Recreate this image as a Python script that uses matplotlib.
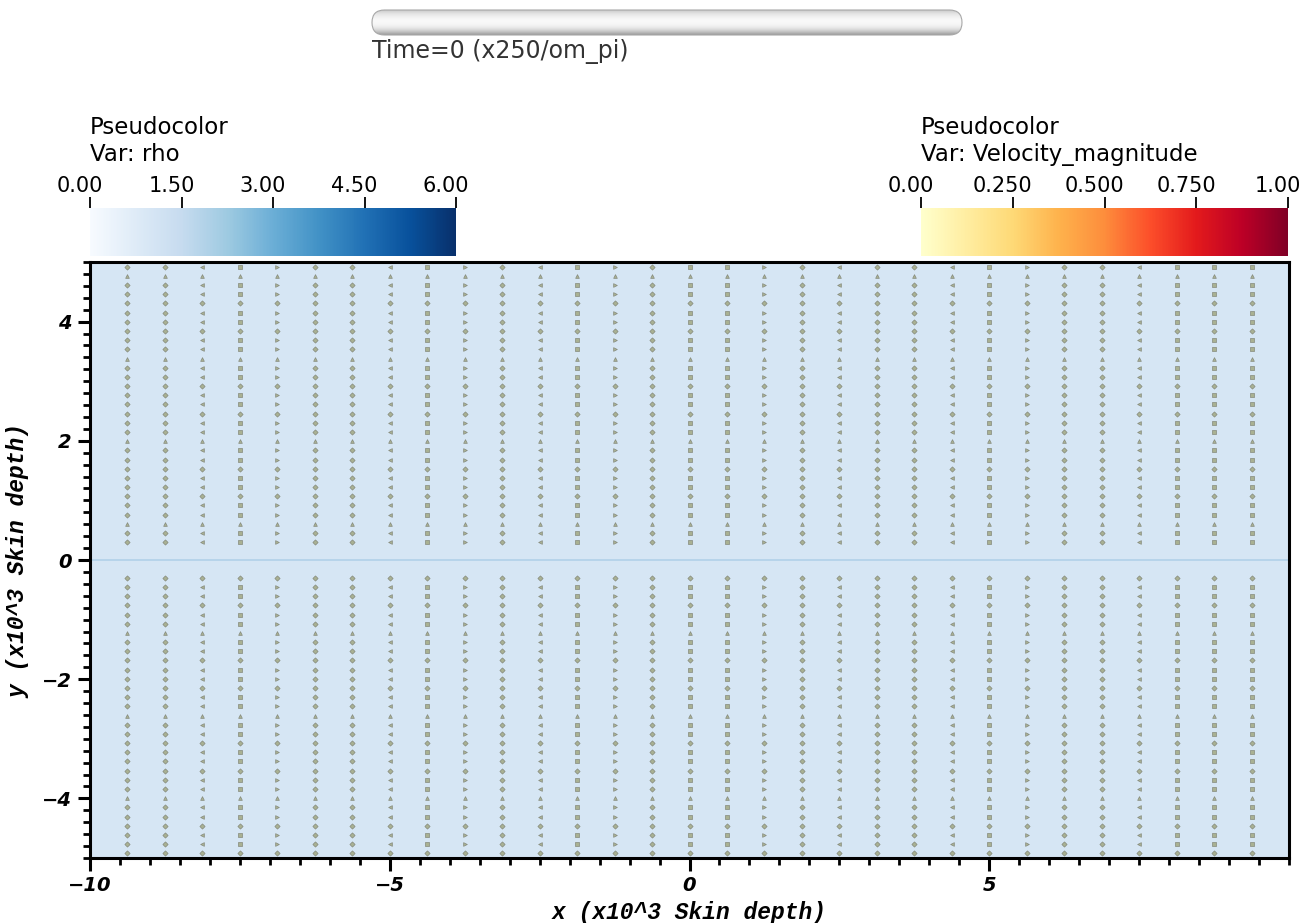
import numpy as np
import matplotlib
matplotlib.use("Agg")
import matplotlib.pyplot as plt
import matplotlib.transforms as mtransforms
from matplotlib.patches import FancyBboxPatch
from matplotlib.cm import ScalarMappable
from matplotlib.colors import Normalize
from matplotlib.ticker import MultipleLocator, FuncFormatter

# ---------------- data ----------------
x_range = [-10, 10]
y_range = [-5, 5]
x_ticks = [-10, -5, 0, 5]
y_ticks = [-4, -2, 0, 2, 4]

# background density (rho) bands in y
rho_y_edges = [-5.0, -0.016, 0.016, 5.0]
rho_values = [1.0, 1.8, 1.0]

# glyph grid (vector glyph locations)
glyph_x = [-9.375 + 0.625 * k for k in range(31)]
glyph_y_upper = [0.30 + 0.154 * k for k in range(31)]
glyph_y = [-v for v in glyph_y_upper[::-1]] + glyph_y_upper
# glyph shape pattern (by column, cycled) and row pattern
col_markers = ['D', 'D', '<', 's', '>', 'D', 'D', '<', 's', '>',
               'D', '<', 's', '>', 'D', 's', 's', '>', 'D', '<',
               'D', 'D', '<', 's', '>', 'D', 'D', '<', 's', 's', 's']
row_markers = ['D', 'v', '^', 'D', 's', 'v', '^', 'D', 's']

rho_ticks = [0.0, 1.5, 3.0, 4.5, 6.0]
rho_ticklabels = ['0.00', '1.50', '3.00', '4.50', '6.00']
vel_ticks = [0.0, 0.25, 0.5, 0.75, 1.0]
vel_ticklabels = ['0.00', '0.250', '0.500', '0.750', '1.00']

time_text = "Time=0 (x250/om_pi)"
xlabel = "x (x10^3 Skin depth)"
ylabel = "y (x10^3 Skin depth)"

# ---------------- figure ----------------
W, H = 1303, 923
fig = plt.figure(figsize=(W / 100, H / 100), dpi=100)

def fx(px):
    return px / W

def fy(py):
    return 1 - py / H

ax = fig.add_axes([fx(90), fy(858), fx(1289) - fx(90), fy(262) - fy(858)])
cmap_rho = plt.get_cmap('Blues')
cmap_vel = plt.get_cmap('YlOrRd')

X, Y = np.meshgrid(np.array(x_range, float), np.array(rho_y_edges, float))
C = np.array(rho_values).reshape(-1, 1)
ax.pcolormesh(X, Y, C, cmap=cmap_rho, vmin=0, vmax=6, shading='flat', zorder=0)

# glyphs
for i, gx in enumerate(glyph_x):
    cm = col_markers[i % len(col_markers)]
    for j, gy in enumerate(glyph_y):
        rm = row_markers[j % len(row_markers)]
        m = rm if (j % 3 == 0) else cm
        ax.scatter([gx], [gy], marker=m, s=7, facecolor='#a9b192',
                   edgecolor='#858a7c', linewidths=0.5, zorder=2)

ax.set_xlim(*x_range)
ax.set_ylim(*y_range)
ax.set_xticks(x_ticks)
ax.set_yticks(y_ticks)
ax.xaxis.set_minor_locator(MultipleLocator(0.5))
ax.yaxis.set_minor_locator(MultipleLocator(0.2))
fmt = FuncFormatter(lambda v, p: ('\u2212%d' % abs(v)) if v < 0 else '%d' % v)
ax.xaxis.set_major_formatter(fmt)
ax.yaxis.set_major_formatter(fmt)
ax.tick_params(which='major', direction='out', length=9, width=2.2, color='black',
               labelsize=14, pad=4)
ax.tick_params(which='minor', direction='out', length=5, width=2.0, color='black')
for lab in ax.get_xticklabels() + ax.get_yticklabels():
    lab.set_fontweight('bold')
    lab.set_fontstyle('italic')
    lab.set_family('DejaVu Sans')
for sp in ax.spines.values():
    sp.set_linewidth(2.2)

ax.set_xlabel(xlabel, family='Liberation Mono', fontweight='bold', fontstyle='italic',
              fontsize=16.5, labelpad=4)
ax.set_ylabel(ylabel, family='Liberation Mono', fontweight='bold', fontstyle='italic',
              fontsize=16.5, labelpad=9)

# ---------------- colorbars ----------------
def make_cbar(x0, x1, cmap, vmin, vmax, ticks, labels, title):
    cax = fig.add_axes([fx(x0), fy(256), fx(x1) - fx(x0), fy(208) - fy(256)])
    sm = ScalarMappable(norm=Normalize(vmin, vmax), cmap=cmap)
    cb = fig.colorbar(sm, cax=cax, orientation='horizontal', ticklocation='top')
    cb.outline.set_visible(False)
    cb.set_ticks(ticks)
    cb.set_ticklabels(labels)
    cax.tick_params(direction='out', length=8, width=1.3, labelsize=15, pad=1)
    cax.minorticks_off()
    off = mtransforms.ScaledTranslation(-0.10, 0, fig.dpi_scale_trans)
    for lab in cax.get_xticklabels():
        lab.set_transform(lab.get_transform() + off)
    fig.text(fx(x0), fy(141), title, ha='left', va='center', fontsize=16.5,
             linespacing=1.2, family='DejaVu Sans')
    return cb

make_cbar(90, 456, cmap_rho, 0, 6, rho_ticks, rho_ticklabels, "Pseudocolor\nVar: rho")
make_cbar(921, 1288, cmap_vel, 0, 1, vel_ticks, vel_ticklabels,
          "Pseudocolor\nVar: Velocity_magnitude")

# ---------------- time slider ----------------
sw, sh = 594, 29
sax = fig.add_axes([fx(370), fy(37), fx(964) - fx(370), fy(8) - fy(37)])
sax.set_xlim(0, sw)
sax.set_ylim(0, sh)
sax.axis('off')
grad = np.array([0.55, 0.68, 0.80, 0.89, 0.94, 0.965, 0.975, 0.965, 0.94, 0.90,
                 0.84, 0.74]).reshape(-1, 1)
img = sax.imshow(grad, cmap='gray', vmin=0, vmax=1, extent=[0, sw, 0, sh],
                 aspect='auto', origin='lower', interpolation='bicubic')
patch = FancyBboxPatch((2, 2), sw - 4, sh - 4,
                       boxstyle="round,pad=0,rounding_size=12.5",
                       transform=sax.transData, facecolor='none',
                       edgecolor='#a8a8a8', lw=0.8)
sax.add_patch(patch)
img.set_clip_path(patch)
fig.text(fx(372), fy(52), time_text, ha='left', va='center', fontsize=17,
         color='#333333', family='DejaVu Sans')

fig.savefig('out.png', dpi=100)
